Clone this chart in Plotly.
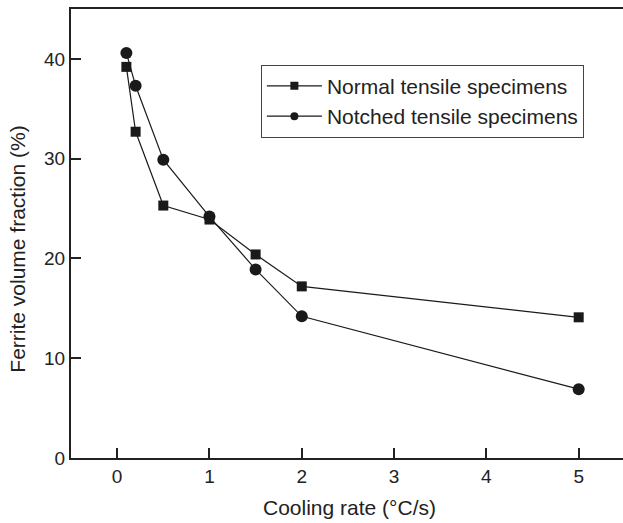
import plotly.graph_objects as go

# Cooling rate (°C/s)
cooling_rate = [0.1, 0.2, 0.5, 1.0, 1.5, 2.0, 5.0]
# Ferrite volume fraction (%)
normal_ferrite = [39.2, 32.7, 25.3, 23.9, 20.4, 17.2, 14.1]
notched_ferrite = [40.6, 37.3, 29.9, 24.2, 18.9, 14.2, 6.9]

series_names = ["Normal tensile specimens", "Notched tensile specimens"]
series_symbols = ["square", "circle"]

x_ticks = [0, 1, 2, 3, 4, 5]
y_ticks = [0, 10, 20, 30, 40]

x_title = "Cooling rate (°C/s)"
y_title = "Ferrite volume fraction (%)"

ink = "#1a1a1a"
font_family = "Liberation Sans, Arial, sans-serif"

fig = go.Figure()
for name, symbol, values, size in zip(series_names, series_symbols,
                                      [normal_ferrite, notched_ferrite], [10, 12]):
    # data series
    fig.add_trace(go.Scatter(
        x=cooling_rate, y=values, mode="lines+markers",
        name=name, legendgroup=name, showlegend=False,
        line=dict(color=ink, width=1.2),
        marker=dict(symbol=symbol, size=size, color=ink),
    ))
    # legend key with a smaller glyph
    fig.add_trace(go.Scatter(
        x=[None], y=[None], mode="lines+markers",
        name=name, legendgroup=name, showlegend=True,
        line=dict(color=ink, width=1.2),
        marker=dict(symbol=symbol, size=8, color=ink),
    ))

# axis titles placed as annotations for precise positioning
fig.add_annotation(
    text=x_title, xref="paper", yref="paper", x=0.504, y=-0.11,
    xanchor="center", yanchor="middle", showarrow=False,
    font=dict(size=21, color="#222"),
)
fig.add_annotation(
    text=y_title, xref="paper", yref="paper", x=-0.097, y=0.465,
    xanchor="center", yanchor="middle", showarrow=False, textangle=-90,
    font=dict(size=21, color="#222"),
)

fig.update_layout(
    width=623, height=523,
    margin=dict(l=71, r=0, t=9, b=65),
    paper_bgcolor="white", plot_bgcolor="white",
    font=dict(family=font_family, color="#222", size=19),
    showlegend=True,
    legend=dict(
        x=0.344, y=0.876, xanchor="left", yanchor="top",
        bgcolor="white", bordercolor="#444", borderwidth=1,
        font=dict(size=21, color="#222"),
        tracegroupgap=0, itemwidth=55,
    ),
    xaxis=dict(
        range=[-0.5, 5.48], tickvals=x_ticks,
        ticks="inside", ticklen=10, tickwidth=1.5, tickcolor="#222",
        showline=True, linecolor="#222", linewidth=2, mirror=True,
        showgrid=False, zeroline=False, tickfont=dict(size=19),
    ),
    yaxis=dict(
        range=[0, 45], tickvals=y_ticks,
        ticks="inside", ticklen=10, tickwidth=1.5, tickcolor="#222",
        showline=True, linecolor="#222", linewidth=2, mirror=False,
        showgrid=False, zeroline=False, tickfont=dict(size=19),
    ),
)

fig.write_html("out.html")
